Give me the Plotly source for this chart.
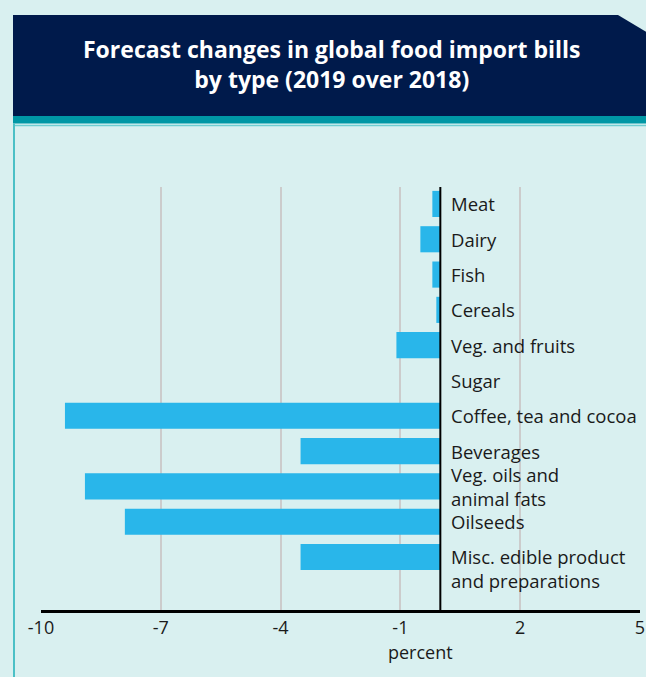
import plotly.graph_objects as go

categories = ["Meat", "Dairy", "Fish", "Cereals", "Veg. and fruits", "Sugar",
              "Coffee, tea and cocoa", "Beverages", "Veg. oils and animal fats",
              "Oilseeds", "Misc. edible product and preparations"]
label_text = ["Meat", "Dairy", "Fish", "Cereals", "Veg. and fruits", "Sugar",
              "Coffee, tea and cocoa", "Beverages", "Veg. oils and<br>animal fats",
              "Oilseeds", "Misc. edible product<br>and preparations"]
values = [-0.2, -0.5, -0.2, -0.1, -1.1, 0.0, -9.4, -3.5, -8.9, -7.9, -3.5]
tick_vals = [-10, -7, -4, -1, 2, 5]
title_lines = ["Forecast changes in global food import bills", "by type (2019 over 2018)"]
x_title = "percent"

W, H = 646, 677
ML, MR, MT, MB = 41, 6, 187, 67
PW = W - ML - MR
PH = H - MT - MB

def px(x):
    return (x - ML) / PW

def py(y):
    return (H - MB - y) / PH

BG = "#d9f0f0"
NAVY = "#001a4b"
TEAL = "#0097a5"
BAR = "#29b6ea"
FONT = "Open Sans"
TXT = "#1a1a1a"

fig = go.Figure()
fig.add_trace(go.Bar(
    x=values, y=categories, orientation="h",
    marker=dict(color=BAR, line=dict(width=0)),
    width=0.74, hoverinfo="x+y",
))

annotations = []
for cat, lab in zip(categories, label_text):
    ys = -11 if lab.startswith("Misc") else 0
    annotations.append(dict(
        x=0, y=cat, xref="x", yref="y", text=lab, showarrow=False,
        xanchor="left", yanchor="middle", xshift=9, yshift=ys, align="left",
        font=dict(family=FONT, size=18.5, color=TXT),
    ))

annotations.append(dict(
    x=px(332), y=py(64), xref="paper", yref="paper",
    text="<br>".join("<b>" + t + "</b>" for t in title_lines),
    showarrow=False, xanchor="center", yanchor="middle", align="center",
    font=dict(family=FONT, size=23, color="white"),
))

annotations.append(dict(
    x=-0.5, y=py(652), xref="x", yref="paper", text=x_title,
    showarrow=False, xanchor="center", yanchor="middle",
    font=dict(family=FONT, size=18, color=TXT),
))

shapes = [
    dict(type="path", xref="paper", yref="paper",
         path=f"M {px(13)},{py(15)} L {px(618)},{py(15)} L {px(660)},{py(40)} L {px(660)},{py(116)} L {px(13)},{py(116)} Z",
         fillcolor=NAVY, line=dict(width=0), layer="below"),
    dict(type="rect", xref="paper", yref="paper",
         x0=px(13), x1=px(660), y0=py(116), y1=py(123.5),
         fillcolor=TEAL, line=dict(width=0), layer="below"),
    dict(type="line", xref="paper", yref="paper",
         x0=px(13), x1=px(660), y0=py(125.5), y1=py(125.5),
         line=dict(color="#6fcdd1", width=1.5), layer="below"),
    dict(type="line", xref="paper", yref="paper",
         x0=px(14), x1=px(14), y0=py(123.5), y1=py(700),
         line=dict(color="#4cc0c6", width=2), layer="below"),
    dict(type="line", xref="x", yref="paper", x0=0, x1=0, y0=0, y1=1,
         line=dict(color="black", width=2), layer="above"),
]

fig.update_layout(
    width=W, height=H,
    margin=dict(l=ML, r=MR, t=MT, b=MB, pad=0, autoexpand=False),
    paper_bgcolor=BG, plot_bgcolor=BG,
    showlegend=False,
    annotations=annotations,
    shapes=shapes,
    font=dict(family=FONT, color=TXT),
)
fig.update_xaxes(
    range=[-10, 5], tickvals=tick_vals, ticktext=[str(v) for v in tick_vals],
    showgrid=True, gridcolor="#cccccc", gridwidth=1.5,
    zeroline=False, showline=True, linecolor="black", linewidth=2.5,
    ticks="", tickfont=dict(family=FONT, size=18, color=TXT),
    ticklabelstandoff=0, automargin=False,
    fixedrange=True,
)
fig.update_yaxes(
    categoryorder="array", categoryarray=categories,
    range=[11.5, -0.48], showticklabels=False, showgrid=False,
    zeroline=False, showline=False, ticks="", fixedrange=True, automargin=False,
)

fig.write_html("out.html", config={"displayModeBar": False})
with open("out.html", "r", encoding="utf-8") as f:
    html = f.read()
html = html.replace("<head>", "<head><style>html,body{margin:0;padding:0;overflow:hidden;}</style>", 1)
with open("out.html", "w", encoding="utf-8") as f:
    f.write(html)
